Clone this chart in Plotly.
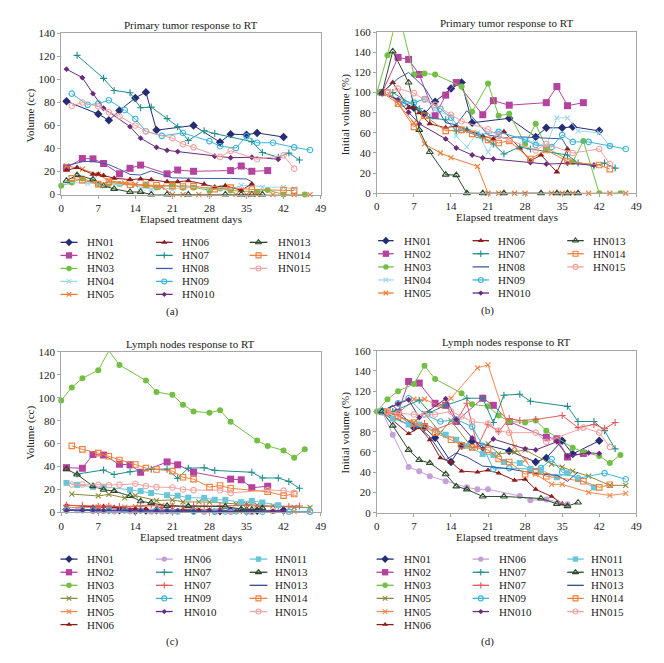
import plotly.graph_objects as go

W, H = 664, 663
FONT = "Liberation Serif, Times New Roman, DejaVu Serif, serif"

# ------------------------------------------------------------------
# Data : primary tumour (panels a, b)
# ------------------------------------------------------------------
PT_SERIES = ["HN01", "HN02", "HN03", "HN04", "HN05",
             "HN06", "HN07", "HN08", "HN09", "HN010",
             "HN013", "HN014", "HN015"]

PT_DAYS = {
    "HN01": [1, 7, 9, 11, 14, 16, 18, 25, 30, 32, 35, 37, 42],
    "HN02": [1, 4, 6, 8, 11, 13, 15, 20, 22, 25, 32, 34, 36, 39],
    "HN03": [0, 2, 4, 7, 9, 11, 16, 18, 21, 23, 25, 28, 30, 32, 37, 39, 42, 46],
    "HN04": [1, 5, 7, 9, 11, 14, 15, 17, 19, 21, 23, 28, 30, 32, 34, 36, 38, 42, 44],
    "HN05": [1, 4, 7, 9, 12, 14, 19, 21, 23, 26, 28, 33, 35, 37, 40, 44, 47],
    "HN06": [1, 3, 6, 7, 8, 10, 13, 15, 17, 20, 22, 24, 27, 29, 31, 34, 36],
    "HN07": [3, 8, 10, 13, 15, 17, 20, 22, 24, 27, 29, 36, 38, 41, 43, 45],
    "HN08": [1, 4, 6, 9, 11, 13, 15, 17, 21, 24, 27, 32, 35, 36],
    "HN09": [2, 5, 7, 9, 12, 14, 16, 19, 23, 28, 30, 33, 35, 37, 40, 44, 47],
    "HN010": [1, 4, 6, 8, 13, 15, 18, 20, 22, 29, 32, 36, 41],
    "HN013": [1, 3, 6, 8, 10, 13, 15, 17, 20, 24, 31, 34, 36, 38],
    "HN014": [2, 4, 7, 9, 13, 16, 18, 21, 23, 25, 29, 32, 36, 42, 44],
    "HN015": [2, 4, 7, 9, 11, 14, 16, 21, 23, 25, 30, 32, 37, 42, 44],
}

PT_CC = {
    "HN01": [81, 70, 64.5, 73, 84, 89, 56, 60, 45.5, 52.5, 52, 53.5, 50],
    "HN02": [23.3, 31.3, 31, 27, 18, 22.8, 25.6, 18, 21.3, 20.2, 20.8, 24.8, 20.2, 20.8],
    "HN03": [7.7, 10.5, 14, 9.1, 9.2, 9.1, 8.2, 6.2, 8.4, 5.9, 6.1, 3.8, 5.3, 3.5, 2.4, 4.0, 0, 0],
    "HN04": [10.5, 9.7, 9.5, 9.9, 8.7, 8.0, 6.0, 4.8, 6.3, 4.3, 6.4, 5.6, 5.3, 4.9, 7.9, 7.9, 6.5, 6.3, 4.9],
    "HN05": [25, 22, 17.5, 12, 10, 8.8, 6.6, 0, 0, 0, 0, 0, 0, 0, 0, 0, 0],
    "HN06": [21, 23.4, 17.6, 17.6, 16.5, 14.2, 13, 13.6, 12.8, 11, 11, 12, 9, 6.5, 7.7, 3.7, 9.2],
    "HN07": [121, 101, 90.5, 88.5, 75.4, 76, 66, 59, 47, 55.5, 53, 46, 36.5, 32.4, 36, 30],
    "HN08": [25, 28.5, 29, 26, 22, 17.5, 17, 20.5, 14.5, 14, 14, 14, 13.5, 11.2],
    "HN09": [87.7, 78, 79, 82, 73.5, 65.7, 55, 51, 53.5, 46.4, 42, 40.4, 50.6, 45, 45, 41, 38.7],
    "HN010": [109, 101.6, 87.7, 75, 59, 49, 41, 38.4, 37.3, 33.3, 32, 32.4, 30.7],
    "HN013": [12, 16.9, 13.2, 7.6, 4.9, 2.2, 2.2, 0, 0, 0, 0, 0, 0, 0],
    "HN014": [14, 12.5, 9, 11, 8.5, 8.5, 8, 7.3, 7, 7.3, 4.7, 6, 4.4, 3.9, 3.4],
    "HN015": [77, 80, 76.6, 71.5, 68, 60, 55, 49, 43.8, 41, 32.7, 38, 30.7, 34, 22.5],
}

PT_PCT = {
    "HN01": [100, 85, 79, 91, 104, 110, 70, 74.5, 56, 65, 65, 66, 62],
    "HN02": [100, 135, 133, 118, 77, 97.5, 110, 78, 92, 87.5, 90, 106, 87, 90],
    "HN03": [100, 137, 181, 118, 119, 118, 106, 81, 109, 77, 79, 49, 69, 45, 31, 52, 0, 0],
    "HN04": [100, 92, 90, 94, 83, 76, 57, 46, 60, 41, 61, 53, 50, 47, 75, 75, 62, 60, 47],
    "HN05": [100, 89, 70, 49, 40, 35.5, 26.7, 0, 0, 0, 0, 0, 0, 0, 0, 0, 0],
    "HN06": [100, 110, 85, 86, 80, 69, 65, 67, 63, 57, 54, 61, 45, 32, 38, 21, 44],
    "HN07": [100, 84, 75, 73, 62, 63, 55, 49, 39, 46, 44, 38, 30, 27, 30, 25],
    "HN08": [100, 114, 120, 105, 88, 70, 68, 82, 58, 55, 56, 55, 54, 45],
    "HN09": [100, 89, 90, 93.5, 84, 75, 63, 58, 61, 53, 48, 46, 58, 51, 51, 47, 44],
    "HN010": [100, 93, 80.5, 69, 54, 45, 38, 35, 34, 30.5, 29, 29.7, 28],
    "HN013": [100, 141, 110, 63, 41, 18.5, 18, 0, 0, 0, 0, 0, 0, 0],
    "HN014": [100, 89, 66, 77, 62, 63, 59, 53, 50, 52, 34, 43, 31.5, 28, 24],
    "HN015": [100, 104, 99.5, 93, 88, 78, 71.5, 63.6, 57, 53, 42.5, 49, 40, 44, 29],
}

# ------------------------------------------------------------------
# Data : lymph nodes (panels c, d)
# ------------------------------------------------------------------
LN_SERIES = ["HN01", "HN02", "HN03", "HN05a", "HN05b", "HN06a",
             "HN06b", "HN07a", "HN07b", "HN09", "HN010",
             "HN011", "HN013a", "HN013b", "HN014", "HN015"]

LN_LABELS = {
    "HN01": "HN01", "HN02": "HN02", "HN03": "HN03", "HN05a": "HN05",
    "HN05b": "HN05", "HN06a": "HN06", "HN06b": "HN06", "HN07a": "HN07",
    "HN07b": "HN07", "HN09": "HN09", "HN010": "HN010", "HN011": "HN011",
    "HN013a": "HN013", "HN013b": "HN013", "HN014": "HN014", "HN015": "HN015",
}

LN_DAYS = {
    "HN01": [1, 7, 9, 11, 14, 16, 18, 25, 30, 32, 35, 37, 42],
    "HN02": [1, 4, 6, 8, 11, 13, 15, 20, 22, 25, 32, 34, 36, 39],
    "HN03": [0, 2, 4, 7, 9, 11, 16, 18, 21, 23, 25, 28, 30, 32, 37, 39, 42, 44, 46],
    "HN05a": [2, 7, 9, 12, 14, 18, 21, 23, 26, 28, 33, 35, 37, 40, 44, 47],
    "HN05b": [1, 4, 7, 9, 12, 14, 19, 21, 26, 28, 30, 33, 35, 40, 44, 47],
    "HN06a": [1, 6, 8, 10, 12, 14, 16, 19, 21, 23, 26, 28, 30, 33, 35],
    "HN06b": [1, 3, 6, 8, 10, 13, 17, 19, 21, 27, 29, 32, 36],
    "HN07a": [3, 8, 10, 13, 17, 20, 22, 24, 27, 29, 36, 38, 41, 43, 45],
    "HN07b": [1, 4, 7, 9, 11, 15, 17, 19, 21, 23, 25, 27, 30, 35, 38, 41, 43, 45],
    "HN09": [1, 4, 6, 9, 12, 15, 18, 20, 22, 25, 29, 31, 33, 35, 38, 43, 47],
    "HN010": [1, 4, 6, 8, 13, 15, 18, 20, 22, 28, 30, 34, 36, 40, 42],
    "HN011": [1, 3, 6, 8, 13, 15, 17, 20, 22, 24, 27, 29, 31, 34, 36, 38, 41],
    "HN013a": [1, 3, 6, 8, 10, 13, 15, 17, 20, 24, 31, 34, 36, 38],
    "HN013b": [1, 3, 6, 8, 10, 13, 15, 17, 20, 24, 31, 34, 36, 38],
    "HN014": [2, 4, 7, 9, 11, 14, 16, 18, 21, 23, 25, 28, 30, 32, 39, 42, 44],
    "HN015": [2, 4, 7, 9, 11, 14, 16, 18, 21, 23, 25, 30, 32, 39, 42, 44],
}

LN_CC = {
    "HN01": [2.5, 2.1, 2.1, 1.85, 1.25, 1.65, 1.76, 1.5, 1.25, 1.35, 1.78, 1.45, 1.78],
    "HN02": [39, 38.5, 50.5, 50, 42, 41.5, 35, 44, 41.5, 35, 29, 28.4, 21.5, 22.8],
    "HN03": [97.7, 109, 117, 124, 141, 128.6, 115, 105, 102.6, 94, 88, 87, 89, 79, 62.6, 58, 54, 47.7, 55],
    "HN05a": [16, 14.3, 15.7, 12.6, 14.6, 10.3, 10.9, 9.1, 9.1, 8.9, 7.4, 6.9, 6.3, 5.7, 4.4, 4.3],
    "HN05b": [4.3, 4.2, 4.8, 4.8, 4.5, 4.9, 6.1, 6.3, 2.8, 2.2, 1.6, 1.2, 1.2, 0.9, 0.7, 0.8],
    "HN06a": [6.3, 4.9, 5.3, 4.5, 3.4, 3.2, 2.6, 2.5, 2.6, 2.5, 2.0, 2.1, 1.4, 1.0, 0.6],
    "HN06b": [2.2, 1.7, 1.0, 0.9, 0.8, 0.7, 0.55, 0.5, 0.5, 0.36, 0.27, 0.29, 0.18],
    "HN07a": [33.4, 37, 33, 35.4, 37.7, 37.7, 29.7, 38.6, 38.9, 36.6, 35, 30, 30, 27, 21],
    "HN07b": [6.2, 6.0, 5.3, 5.5, 5.1, 5.6, 6.7, 4.0, 5.4, 5.0, 5.8, 5.6, 5.7, 6.0, 5.2, 5.4, 5.1, 5.5],
    "HN09": [1.8, 1.9, 2.0, 1.75, 1.6, 1.65, 1.5, 1.2, 0.8, 0.8, 0.8, 0.8, 0.95, 0.7, 0.6, 0.7, 0.6],
    "HN010": [1.7, 1.8, 1.9, 1.6, 1.9, 1.55, 1.25, 1.05, 1.25, 1.05, 1.05, 1.2, 0.95, 1.0, 1.0],
    "HN011": [25.7, 24, 22.3, 22.3, 19.7, 18.6, 16.9, 15, 14.6, 12.9, 12.6, 11, 10.9, 8.9, 10, 8.6, 6.3],
    "HN013a": [37.7, 33, 22.9, 19.7, 18.6, 14.3, 9.7, 8.3, 5.7, 5.4, 5.1, 2.9, 2.3, 3.7],
    "HN013b": [2.0, 2.1, 1.8, 1.7, 1.5, 1.05, 1.2, 1.1, 0.9, 0.9, 0.75, 0.75, 0.6, 0.8],
    "HN014": [58, 55, 51.7, 49, 45.7, 41.7, 38.6, 37.4, 36, 30.6, 29, 22, 23.4, 21, 18, 14.6, 16],
    "HN015": [24.3, 24.3, 24, 23.7, 24, 25, 23, 22, 21.7, 20, 19.4, 19.4, 17, 19.4, 19, 17],
}

LN_PCT = {
    "HN01": [100, 84, 84, 74, 50, 66, 70.5, 61, 50, 54, 71, 58, 71],
    "HN02": [100, 99, 129.5, 128, 108, 106, 90, 113, 106, 90, 74.5, 73, 55, 58.5],
    "HN03": [100, 112, 120, 127, 145, 132, 118, 107, 105, 96, 90, 89, 91, 81, 64, 60, 56, 49, 57],
    "HN05a": [100, 89, 98, 79, 91, 64, 68, 58, 60, 62, 48, 45, 41, 36, 27, 27],
    "HN05b": [100, 98, 112, 112, 105, 113, 143, 146, 65, 52, 38, 28, 28, 20, 17, 19],
    "HN06a": [100, 78, 84, 72, 54, 50, 41, 40, 42, 39, 32, 33, 23, 16, 9],
    "HN06b": [100, 77, 45, 41, 36, 31, 25, 23, 23, 16.5, 12.3, 13, 8.4],
    "HN07a": [100, 111, 99, 106, 113, 113, 89, 116, 117, 110, 105, 90, 90, 81, 63],
    "HN07b": [100, 96, 85, 88, 82, 90, 108, 65, 87, 80, 93, 91, 92, 96, 84, 87, 83, 89],
    "HN09": [100, 108, 113, 97, 90, 92, 85, 66, 43, 44, 43, 44, 53, 40, 34, 39, 33],
    "HN010": [100, 107.6, 111.5, 94, 112.5, 92, 73.7, 63, 72.7, 63, 62, 70, 56, 59, 58.5],
    "HN011": [100, 93, 87, 87, 77, 72, 66, 58, 57, 50, 49, 43, 42, 35, 39, 33, 25],
    "HN013a": [100, 86, 62, 52, 49, 38, 26, 23, 16, 16, 14, 8.7, 6.5, 10],
    "HN013b": [100, 106, 90, 84, 75, 52, 59, 55, 46, 44, 38, 37, 31, 40],
    "HN014": [100, 95, 89, 84.5, 79, 72, 66.5, 64.5, 62, 53, 50, 38, 40, 36, 31, 25, 27.6],
    "HN015": [100, 98, 97, 97, 97, 100, 95, 90, 88, 81, 79, 79, 70, 84, 79, 65],
}

X_TICKS = [0, 7, 14, 21, 28, 35, 42, 49]
CC_TICKS = [0, 20, 40, 60, 80, 100, 120, 140]
PCT_TICKS = [0, 20, 40, 60, 80, 100, 120, 140, 160]

# ------------------------------------------------------------------
# Styles
# ------------------------------------------------------------------
PT_STYLE = {
    "HN01": ("#262C74", "diamond", 6.5),
    "HN02": ("#B5429E", "square", 7),
    "HN03": ("#72BF44", "circle", 6),
    "HN04": ("#9ED8EA", "x-thin-open", 5),
    "HN05": ("#F07B35", "x-thin-open", 5),
    "HN06": ("#8E1C1C", "triangle-up", 6),
    "HN07": ("#238C8C", "cross-thin-open", 5),
    "HN08": ("#3D5BA9", None, 0),
    "HN09": ("#3BB4DC", "circle-open", 5.5),
    "HN010": ("#6B2C7E", "diamond", 4.5),
    "HN013": ("#2D4A2D", "triangle-up-open", 6),
    "HN014": ("#EF7F3A", "square-open", 5.5),
    "HN015": ("#F2A2A0", "circle-open", 5.5),
}
LN_STYLE = {
    "HN01": ("#262C74", "diamond", 6.5),
    "HN02": ("#B5429E", "square", 7),
    "HN03": ("#72BF44", "circle", 6),
    "HN05a": ("#8A8A3A", "x-thin-open", 5),
    "HN05b": ("#F4874B", "x-thin-open", 5),
    "HN06a": ("#8E1C1C", "triangle-up", 5.5),
    "HN06b": ("#C3A0D5", "circle", 6),
    "HN07a": ("#238C8C", "cross-thin-open", 5),
    "HN07b": ("#E25C5C", "cross-thin-open", 5),
    "HN09": ("#3BB4DC", "circle-open", 5.5),
    "HN010": ("#6B2C7E", "diamond", 4.5),
    "HN011": ("#69C6D8", "square", 6),
    "HN013a": ("#2D4A2D", "triangle-up-open", 6),
    "HN013b": ("#2E4A9A", None, 0),
    "HN014": ("#EF7F3A", "square-open", 5.5),
    "HN015": ("#F2A2A0", "circle-open", 5.5),
}

AXIS_COLOR = "#A6A6A6"
TEXT_COLOR = "#222222"


def px_x(p):
    return p / W


def px_y(p):
    return 1 - p / H


def marker_dict(style, scale=1.0):
    color, symbol, size = style
    if symbol is None:
        return dict(size=0, opacity=0)
    thin = symbol.endswith("-open")
    return dict(symbol=symbol, size=size * scale, color=color,
                line=dict(color=color, width=1.1 if thin else 0))


fig = go.Figure()

# Panels: (axis suffix, pixel box [x0, x1, ytop, ybottom])
PANELS = {
    "a": ("", (59, 322, 28, 192)),
    "b": ("2", (379, 642, 26.7, 190.7)),
    "c": ("3", (59, 322, 352.3, 515.7)),
    "d": ("4", (379, 642, 351, 516)),
}


def add_series(panel, keys, days, vals, styles):
    sfx = PANELS[panel][0]
    for k in keys:
        st = styles[k]
        mode = "lines" if st[1] is None else "lines+markers"
        clip = (panel == "b" and k == "HN03")
        fig.add_trace(go.Scatter(
            x=days[k], y=vals[k], mode=mode, name=k,
            line=dict(color=st[0], width=1),
            marker=marker_dict(st),
            cliponaxis=clip, showlegend=False,
            xaxis="x" + sfx, yaxis="y" + sfx))


add_series("a", PT_SERIES, PT_DAYS, PT_CC, PT_STYLE)
add_series("b", PT_SERIES, PT_DAYS, PT_PCT, PT_STYLE)
add_series("c", LN_SERIES, LN_DAYS, LN_CC, LN_STYLE)
add_series("d", LN_SERIES, LN_DAYS, LN_PCT, LN_STYLE)


def axis_common(rng, ticks):
    return dict(range=rng, tickvals=ticks, showgrid=False, zeroline=False,
                showline=True, linecolor=AXIS_COLOR, linewidth=1, mirror=True,
                ticks="outside", ticklen=3, tickcolor=AXIS_COLOR,
                tickfont=dict(family=FONT, size=11, color=TEXT_COLOR))


layout_axes = {}
for panel, (sfx, (x0, x1, yt, yb)) in PANELS.items():
    yticks = CC_TICKS if panel in ("a", "c") else PCT_TICKS
    ymax = 140 if panel in ("a", "c") else 160
    xa = axis_common([0, 49], X_TICKS)
    xa.update(domain=[px_x(x0), px_x(x1)], anchor="y" + sfx)
    ya = axis_common([0, ymax], yticks)
    ya.update(domain=[px_y(yb), px_y(yt)], anchor="x" + sfx)
    layout_axes["xaxis" + sfx] = xa
    layout_axes["yaxis" + sfx] = ya

# Overlay axis in pixel units for the legend keys
layout_axes["xaxis5"] = dict(domain=[0, 1], range=[0, W], visible=False, anchor="y5")
layout_axes["yaxis5"] = dict(domain=[0, 1], range=[H, 0], visible=False, anchor="x5")

annotations = []


def text(x, y, s, size=11, anchor="center", angle=0):
    annotations.append(dict(x=px_x(x), y=px_y(y), xref="paper", yref="paper",
                            text=s, showarrow=False, xanchor=anchor,
                            yanchor="middle", textangle=angle,
                            font=dict(family=FONT, size=size, color=TEXT_COLOR)))


# Titles / axis labels / captions
text(190.5, 19.5, "Primary tumor response to RT")
text(510.5, 17.5, "Primary tumor response to RT")
text(190.5, 344, "Lymph nodes response to RT")
text(510.5, 342.5, "Lymph nodes response to RT")
for xc, yc in ((190.5, 216.7), (510.5, 215), (190.5, 540.7), (510.5, 540.7)):
    text(xc, yc, "Elapsed treatment days")
text(28, 112, "Volume (cc)", angle=-90)
text(347, 110, "Initial volume (%)", angle=-90)
text(28, 435, "Volume (cc)", angle=-90)
text(347, 434, "Initial volume (%)", angle=-90)
text(172, 311, "(a)")
text(491, 310, "(b)")
text(172, 647.7, "(c)")
text(491, 647.7, "(d)")

# Legend grids (pixel layout)
LEGENDS = [
    (PT_SERIES, {k: k for k in PT_SERIES}, PT_STYLE, [5, 10, 13],
     [(58.3, 75.5, 83.5), (155, 172, 179.5), (250, 268, 277)],
     [240.7, 254, 267.3, 280.5, 293.7]),
    (PT_SERIES, {k: k for k in PT_SERIES}, PT_STYLE, [5, 10, 13],
     [(380.3, 396, 404), (476, 492.7, 499.5), (572, 588.7, 596.3)],
     [239, 252.3, 265.7, 279, 292.3]),
    (LN_SERIES, LN_LABELS, LN_STYLE, [6, 11, 16],
     [(58.3, 75.5, 83.5), (155, 172, 181), (250, 268, 273.5)],
     [563.3, 576.7, 590, 603.3, 616.7, 630]),
    (LN_SERIES, LN_LABELS, LN_STYLE, [6, 11, 16],
     [(378.7, 396, 404), (476, 492.7, 500.3), (572, 588.7, 594)],
     [563.3, 576.7, 590, 603.3, 616.7, 630]),
]

for keys, labels, styles, splits, cols, rows in LEGENDS:
    start = 0
    for ci, end in enumerate(splits):
        lx0, lx1, tx = cols[ci]
        for ri, k in enumerate(keys[start:end]):
            y = rows[ri]
            st = styles[k]
            fig.add_trace(go.Scatter(x=[lx0, lx1], y=[y, y], mode="lines",
                                     line=dict(color=st[0], width=1.3),
                                     showlegend=False, hoverinfo="skip",
                                     xaxis="x5", yaxis="y5"))
            if st[1] is not None:
                fig.add_trace(go.Scatter(x=[(lx0 + lx1) / 2], y=[y], mode="markers",
                                         marker=marker_dict(st, 0.9), cliponaxis=False,
                                         showlegend=False, hoverinfo="skip",
                                         xaxis="x5", yaxis="y5"))
            text(tx, y, labels[k], anchor="left")
        start = end

fig.update_layout(
    width=W, height=H, margin=dict(l=0, r=0, t=0, b=0),
    paper_bgcolor="white", plot_bgcolor="rgba(0,0,0,0)",
    showlegend=False, annotations=annotations,
    font=dict(family=FONT, size=11, color=TEXT_COLOR),
    **layout_axes,
)

fig.write_html("out.html", config={"displayModeBar": False},
               post_script="document.body.style.margin='0';")
